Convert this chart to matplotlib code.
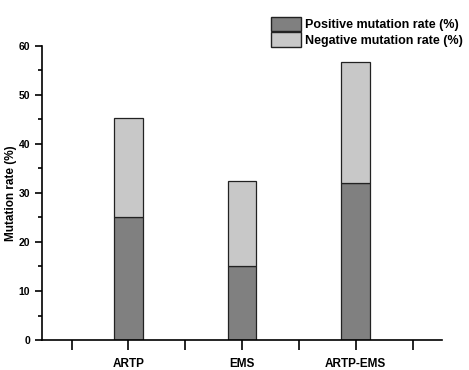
import matplotlib
matplotlib.use('Agg')
import matplotlib.pyplot as plt
from matplotlib.patches import Patch
from matplotlib.ticker import MultipleLocator, FixedLocator

plt.rcParams['font.family'] = ['Liberation Sans', 'DejaVu Sans']
plt.rcParams['font.weight'] = 'bold'

# dados
grupos = ['ARTP', 'EMS', 'ARTP-EMS']
positiva = [25.0, 15.0, 32.0]
negativa = [20.2, 17.5, 24.7]

cor_pos = '#808080'
cor_neg = '#c8c8c8'

fig = plt.figure(figsize=(4.69, 3.70), dpi=100)
ax = fig.add_axes([0.0896, 0.081, 0.853, 0.795])

x = list(range(1, len(grupos) + 1))
largura = 0.25
ax.bar(x, positiva, width=largura, color=cor_pos, edgecolor='#222222', linewidth=0.9)
ax.bar(x, negativa, width=largura, bottom=positiva, color=cor_neg,
       edgecolor='#222222', linewidth=0.9)

ax.set_xlim(0.24, 3.76)
ax.set_ylim(0, 60)
ax.spines['top'].set_visible(False)
ax.spines['right'].set_visible(False)
for s in ['left', 'bottom']:
    ax.spines[s].set_linewidth(1.2)

ax.set_xticks(x)
ax.set_xticklabels(grupos, fontsize=8.5, fontweight='bold')
ax.xaxis.set_minor_locator(FixedLocator([0.5, 1.5, 2.5, 3.5]))
ax.tick_params(axis='x', which='both', direction='out', length=7, width=1.2, pad=6)
ax.yaxis.set_major_locator(MultipleLocator(10))
ax.yaxis.set_minor_locator(MultipleLocator(5))
ax.tick_params(axis='y', which='major', direction='out', length=5, width=1.2, labelsize=7.5)
ax.tick_params(axis='y', which='minor', direction='out', length=3, width=1.2)
for lab in ax.get_yticklabels():
    lab.set_fontweight('bold')
ax.set_ylabel('Mutation rate (%)', fontsize=8.5, fontweight='bold', labelpad=1)

handles = [Patch(facecolor=cor_pos, edgecolor='#222222', label='Positive mutation rate (%)'),
           Patch(facecolor=cor_neg, edgecolor='#222222', label='Negative mutation rate (%)')]
fig.legend(handles=handles, loc='upper left', bbox_to_anchor=(0.578, 0.955),
           frameon=False, fontsize=9.0, handlelength=2.4, handleheight=1.45,
           handletextpad=0.3, labelspacing=0.05, borderpad=0, borderaxespad=0)

fig.savefig('out.png', dpi=100)
